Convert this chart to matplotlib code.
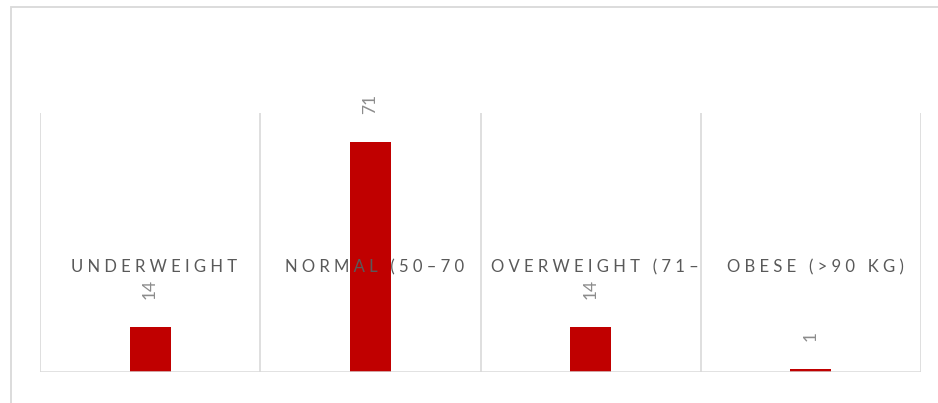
import matplotlib
matplotlib.use('Agg')
import matplotlib.pyplot as plt
from matplotlib.patches import Rectangle
from matplotlib.transforms import blended_transform_factory

categories = ["UNDERWEIGHT", "NORMAL (50–70", "OVERWEIGHT (71–", "OBESE (>90 KG)"]
counts = [14, 71, 14, 1]

W, H = 938, 403
fig = plt.figure(figsize=(W / 100, H / 100), dpi=100)
plt.rcParams['font.family'] = ['Lato', 'DejaVu Sans']

# outer chart frame (cropped on right and bottom)
fig.patches.append(Rectangle((11 / W, -0.5), 2.0, 1.5 - 7 / H, transform=fig.transFigure,
                             fill=False, edgecolor='#d9d9d9', linewidth=1.3))

ax = fig.add_axes([40 / W, (H - 372) / H, 881 / W, (372 - 113) / H])
x = list(range(len(categories)))
bars = ax.bar(x, counts, width=0.186, color='#c00000', zorder=3)

ax.set_xlim(-0.5, len(categories) - 0.5)
ax.set_ylim(0, 80)
for spine in ax.spines.values():
    spine.set_visible(False)
ax.set_xticks([])
ax.set_yticks([])

# vertical gridlines at category boundaries
for b in [i - 0.5 for i in range(len(categories) + 1)]:
    ax.axvline(b, color='#d9d9d9', linewidth=1.2, zorder=1)
ax.axhline(0, color='#d9d9d9', linewidth=1.8, zorder=4)

# category labels inside the plot, letter-spaced
trans = blended_transform_factory(ax.transData, ax.transAxes)
for xi, cat in zip(x, categories):
    spaced = " ".join(cat)
    ax.text(xi + 0.02, 0.405, spaced, transform=trans, ha='center', va='center',
            fontsize=12, color='#595959', zorder=5)

# rotated data labels
for rect, v in zip(bars, counts):
    ax.annotate(str(v), (rect.get_x() + rect.get_width() / 2, v),
                xytext=(0, 20), textcoords='offset points', rotation=90,
                ha='center', va='bottom', fontsize=12.5, color='#8c8c8c', zorder=5)

plt.savefig('out.png', dpi=100)
